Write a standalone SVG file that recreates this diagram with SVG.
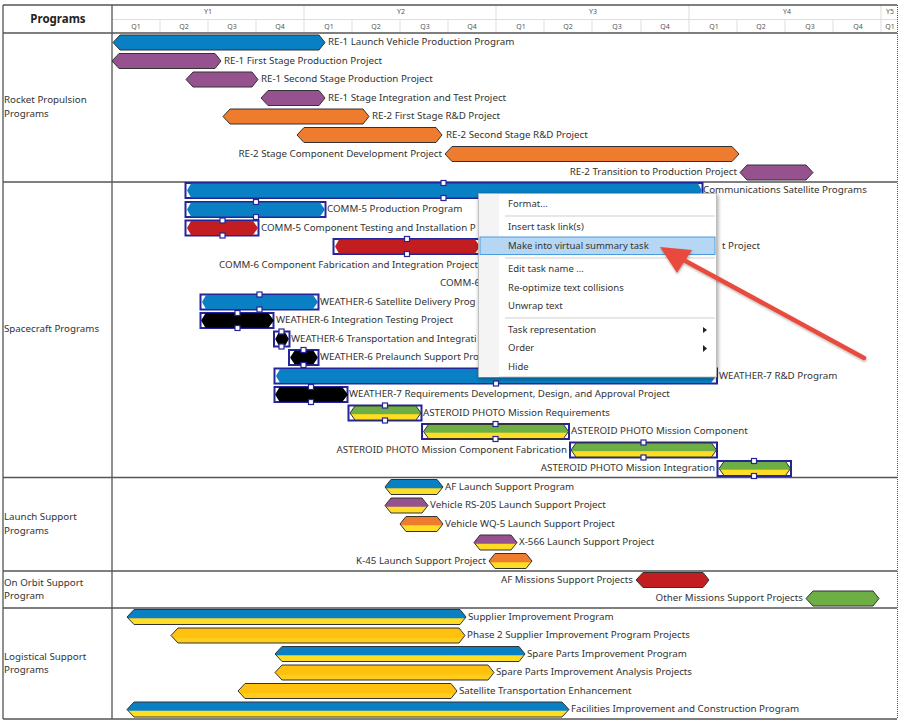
<svg xmlns="http://www.w3.org/2000/svg" width="900" height="724" viewBox="0 0 900 724">
<defs>
<linearGradient id="gBY" x1="0" y1="0" x2="0" y2="1"><stop offset="0.55" stop-color="#0A80C4"/><stop offset="0.62" stop-color="#FFDD25"/></linearGradient>
<linearGradient id="gPY" x1="0" y1="0" x2="0" y2="1"><stop offset="0.55" stop-color="#96528F"/><stop offset="0.62" stop-color="#FFDD25"/></linearGradient>
<linearGradient id="gOY" x1="0" y1="0" x2="0" y2="1"><stop offset="0.55" stop-color="#EE7B2E"/><stop offset="0.62" stop-color="#FFDD25"/></linearGradient>
<linearGradient id="gGY" x1="0" y1="0" x2="0" y2="1"><stop offset="0.55" stop-color="#6DAE45"/><stop offset="0.62" stop-color="#FFDD25"/></linearGradient>
<linearGradient id="gGold" x1="0" y1="0" x2="0" y2="1"><stop offset="0.6" stop-color="#FFC10E"/><stop offset="0.7" stop-color="#FFCD1C"/></linearGradient>
<filter id="shadow" x="-10%" y="-10%" width="120%" height="120%"><feDropShadow dx="1" dy="1.5" stdDeviation="2" flood-color="#000" flood-opacity="0.4"/></filter>
<filter id="ashadow" x="-10%" y="-10%" width="120%" height="120%"><feDropShadow dx="0.5" dy="1.5" stdDeviation="1.2" flood-color="#000" flood-opacity="0.3"/></filter>
</defs>
<style>
text{font-family:"Noto Sans","Liberation Sans",sans-serif;font-size:9.75px;fill:#333}
.hd{font-size:7px;fill:#555;text-anchor:middle}
.ttl{font-size:11.5px;font-weight:bold;fill:#222;text-anchor:middle}
.e{text-anchor:end}
.bar{stroke:#333;stroke-width:1;stroke-linejoin:round}
.blue{fill:#0A80C4}.pur{fill:#96528F}.org{fill:#EE7B2E}.red{fill:#C21E22}.blk{fill:#000;stroke:#000;stroke-linejoin:round;stroke-width:1.5}.grn{fill:#6DAE45}
.by{fill:url(#gBY)}.py{fill:url(#gPY)}.oy{fill:url(#gOY)}.gy{fill:url(#gGY)}.gold{fill:url(#gGold)}
.sel{fill:#fff;stroke:#25259A;stroke-width:2}
.h{fill:#fff;stroke:#25259A;stroke-width:1.2}
.grid{stroke:#555;stroke-width:1.3;fill:none}
.lt{stroke:#DDD;stroke-width:1;fill:none}
.mi{font-size:9.5px;fill:#333}
.sep{stroke:#CFCFCF;stroke-width:1}
</style>
<rect width="900" height="724" fill="#fff"/>
<g id="grid">
<path class="lt" d="M112 19.5H897M160 19.5V33M208 19.5V33M256 19.5V33M304 5V33M352 19.5V33M400 19.5V33M448 19.5V33M496 5V33M544 19.5V33M592 19.5V33M641 19.5V33M689 5V33M737 19.5V33M785 19.5V33M833 19.5V33M881 5V33"/>
<path class="grid" d="M3 5H897M3 33H897M3 182H897M3 477.5H897M3 571H897M3 608H897M3 719H897M3 5V719M112 5V719"/>
<path d="M897.5 5V719" stroke="#555" stroke-width="1" stroke-dasharray="1 1" fill="none"/>
</g>
<g id="header">
<text class="ttl" x="58" y="22.5">Programs</text>
<text class="hd" x="208" y="14">Y1</text><text class="hd" x="401" y="14">Y2</text><text class="hd" x="593" y="14">Y3</text><text class="hd" x="787" y="14">Y4</text><text class="hd" x="890" y="14">Y5</text>
<text class="hd" x="136" y="28.5">Q1</text><text class="hd" x="184" y="28.5">Q2</text><text class="hd" x="232" y="28.5">Q3</text><text class="hd" x="280" y="28.5">Q4</text>
<text class="hd" x="329" y="28.5">Q1</text><text class="hd" x="376" y="28.5">Q2</text><text class="hd" x="425" y="28.5">Q3</text><text class="hd" x="472" y="28.5">Q4</text>
<text class="hd" x="521" y="28.5">Q1</text><text class="hd" x="568" y="28.5">Q2</text><text class="hd" x="617" y="28.5">Q3</text><text class="hd" x="665" y="28.5">Q4</text>
<text class="hd" x="714" y="28.5">Q1</text><text class="hd" x="761" y="28.5">Q2</text><text class="hd" x="810" y="28.5">Q3</text><text class="hd" x="858" y="28.5">Q4</text><text class="hd" x="890" y="28.5">Q1</text>
</g>
<g id="row-labels">
<text x="4" y="103">Rocket Propulsion</text><text x="4" y="116.5">Programs</text>
<text x="4" y="332">Spacecraft Programs</text>
<text x="4" y="520">Launch Support</text><text x="4" y="533.5">Programs</text>
<text x="4" y="585.5">On Orbit Support</text><text x="4" y="599">Program</text>
<text x="4" y="659.5">Logistical Support</text><text x="4" y="673">Programs</text>
</g>
<g id="t0" transform="translate(0,42.5)"><polygon class="bar blue" points="113,0 120,-7.5 319,-7.5 325,0 319,7.5 120,7.5"/><text x="328" y="2.5">RE-1 Launch Vehicle Production Program</text></g>
<g id="t1" transform="translate(0,61)"><polygon class="bar pur" points="112,0 119,-7.5 215,-7.5 221,0 215,7.5 119,7.5"/><text x="224" y="2.5">RE-1 First Stage Production Project</text></g>
<g id="t2" transform="translate(0,79.5)"><polygon class="bar pur" points="186,0 193,-7.5 252,-7.5 258,0 252,7.5 193,7.5"/><text x="261" y="2.5">RE-1 Second Stage Production Project</text></g>
<g id="t3" transform="translate(0,98)"><polygon class="bar pur" points="261,0 268,-7.5 319,-7.5 325,0 319,7.5 268,7.5"/><text x="328" y="2.5">RE-1 Stage Integration and Test Project</text></g>
<g id="t4" transform="translate(0,116.5)"><polygon class="bar org" points="223,0 230,-7.5 363,-7.5 369,0 363,7.5 230,7.5"/><text x="372" y="2.5">RE-2 First Stage R&amp;D Project</text></g>
<g id="t5" transform="translate(0,135)"><polygon class="bar org" points="297,0 304,-7.5 436,-7.5 442,0 436,7.5 304,7.5"/><text x="446" y="2.5">RE-2 Second Stage R&amp;D Project</text></g>
<g id="t6" transform="translate(0,154)"><polygon class="bar org" points="445,0 452,-7.5 732,-7.5 739,0 732,7.5 452,7.5"/><text class="e" x="442" y="2.5">RE-2 Stage Component Development Project</text></g>
<g id="t7" transform="translate(0,172.5)"><polygon class="bar pur" points="740,0 747,-7.5 806,-7.5 813,0 806,7.5 747,7.5"/><text class="e" x="737" y="2.5">RE-2 Transition to Production Project</text></g>

<g id="t8" transform="translate(0,190.5)"><rect class="sel" x="185.5" y="-7.5" width="517" height="15"/><polygon class="blue" points="187,0 191,-7 698,-7 702,0 698,7 191,7"/><rect class="h" x="441" y="-10" width="5" height="5"/><rect class="h" x="441" y="5" width="5" height="5"/><text x="703" y="2.5">Communications Satellite Programs</text></g>
<g id="t9" transform="translate(0,209.5)"><rect class="sel" x="185.5" y="-7.5" width="140" height="15"/><polygon class="blue" points="187,0 191,-7 320,-7 325,0 320,7 191,7"/><rect class="h" x="253.5" y="-10" width="5" height="5"/><rect class="h" x="253.5" y="5" width="5" height="5"/><text x="327" y="2.5">COMM-5 Production Program</text></g>
<g id="t10" transform="translate(0,228)"><rect class="sel" x="185.5" y="-7.5" width="73" height="15"/><polygon class="red" points="187,0 191,-7 253,-7 258,0 253,7 191,7"/><rect class="h" x="220" y="-10" width="5" height="5"/><rect class="h" x="220" y="5" width="5" height="5"/><text x="261" y="2.5">COMM-5 Component Testing and Installation P</text></g>
<g id="t11" transform="translate(0,246.5)"><rect class="sel" x="333.5" y="-7.5" width="147" height="15"/><polygon class="red" points="335,0 339,-7 475,-7 480,0 475,7 339,7"/><rect class="h" x="404.5" y="-10" width="5" height="5"/><rect class="h" x="404.5" y="5" width="5" height="5"/><text x="722" y="2.5">t Project</text></g>
<g id="t12" transform="translate(0,265)"><text class="e" x="478" y="2.5">COMM-6 Component Fabrication and Integration Project</text></g>
<g id="t13" transform="translate(0,283.5)"><text x="440" y="2.5">COMM-6</text></g>
<g id="t14" transform="translate(0,302)"><rect class="sel" x="200.5" y="-7.5" width="118" height="15"/><polygon class="blue" points="202,0 206,-7 313,-7 318,0 313,7 206,7"/><rect class="h" x="257" y="-10" width="5" height="5"/><rect class="h" x="257" y="5" width="5" height="5"/><text x="320" y="2.5">WEATHER-6 Satellite Delivery Prog</text></g>
<g id="t15" transform="translate(0,320.5)"><rect class="sel" x="200.5" y="-7.5" width="73" height="15"/><polygon class="blk" points="202,0 206,-6.5 268,-6.5 273,0 268,6.5 206,6.5"/><rect class="h" x="235" y="-10" width="5" height="5"/><rect class="h" x="235" y="5" width="5" height="5"/><text x="276" y="2.5">WEATHER-6 Integration Testing Project</text></g>
<g id="t16" transform="translate(0,339)"><rect class="sel" x="274" y="-7.5" width="15.5" height="15"/><polygon class="blk" points="276,0 279,-5.5 285,-5.5 288,0 285,5.5 279,5.5"/><rect class="h" x="279" y="-10" width="5" height="5"/><rect class="h" x="279" y="5" width="5" height="5"/><text x="291" y="2.5">WEATHER-6 Transportation and Integrati</text></g>
<g id="t17" transform="translate(0,357.5)"><rect class="sel" x="289" y="-7.5" width="29.5" height="15"/><polygon class="blk" points="291,0 295,-6 313,-6 317,0 313,6 295,6"/><rect class="h" x="301" y="-10" width="5" height="5"/><rect class="h" x="301" y="5" width="5" height="5"/><text x="320" y="2.5">WEATHER-6 Prelaunch Support Pro</text></g>
<g id="t18" transform="translate(0,376)"><rect class="sel" x="274.5" y="-7.5" width="442.500" height="15"/><polygon class="blue" points="276,0 280,-7 711,-7 716,0 711,7 280,7"/><rect class="h" x="493.5" y="5" width="5" height="5"/><text x="719" y="2.5">WEATHER-7 R&amp;D Program</text></g>
<g id="t19" transform="translate(0,394.5)"><rect class="sel" x="274.5" y="-7.5" width="73" height="15"/><polygon class="blk" points="276,0 280,-6.5 342,-6.5 347,0 342,6.5 280,6.5"/><rect class="h" x="308.5" y="-10" width="5" height="5"/><rect class="h" x="308.5" y="5" width="5" height="5"/><text x="349" y="2.5">WEATHER-7 Requirements Development, Design, and Approval Project</text></g>
<g id="t20" transform="translate(0,413)"><rect class="sel" x="348.5" y="-7.5" width="73" height="15"/><polygon class="bar gy" points="350,0 355,-7 416,-7 421,0 416,7 355,7"/><rect class="h" x="382.5" y="-10" width="5" height="5"/><rect class="h" x="382.5" y="5" width="5" height="5"/><text x="423" y="2.5">ASTEROID PHOTO Mission Requirements</text></g>
<g id="t21" transform="translate(0,431.5)"><rect class="sel" x="422" y="-7.5" width="147" height="15"/><polygon class="bar gy" points="423.5,0 428.5,-7 563.5,-7 568.5,0 563.5,7 428.5,7"/><rect class="h" x="493" y="-10" width="5" height="5"/><rect class="h" x="493" y="5" width="5" height="5"/><text x="571" y="2.5">ASTEROID PHOTO Mission Component</text></g>
<g id="t22" transform="translate(0,450)"><rect class="sel" x="570" y="-7.5" width="147" height="15"/><polygon class="bar gy" points="571,0 576,-7 711.5,-7 716.5,0 711.5,7 576,7"/><rect class="h" x="641" y="-10" width="5" height="5"/><rect class="h" x="641" y="5" width="5" height="5"/><text class="e" x="567" y="2.5">ASTEROID PHOTO Mission Component Fabrication</text></g>
<g id="t23" transform="translate(0,468.5)"><rect class="sel" x="717.5" y="-7.5" width="73.5" height="15"/><polygon class="bar gy" points="719,0 724,-7 785.5,-7 790.5,0 785.5,7 724,7"/><rect class="h" x="751.5" y="-10" width="5" height="5"/><rect class="h" x="751.5" y="5" width="5" height="5"/><text class="e" x="715" y="2.5">ASTEROID PHOTO Mission Integration</text></g>

<g id="t24" transform="translate(0,487)"><polygon class="bar by" points="385,0 391,-7.5 437,-7.5 443,0 437,7.5 391,7.5"/><text x="445" y="2.5">AF Launch Support Program</text></g>
<g id="t25" transform="translate(0,505.5)"><polygon class="bar py" points="385,0 391,-7.5 422,-7.5 428,0 422,7.5 391,7.5"/><text x="430" y="2.5">Vehicle RS-205 Launch Support Project</text></g>
<g id="t26" transform="translate(0,524)"><polygon class="bar oy" points="400,0 406,-7.5 437,-7.5 443,0 437,7.5 406,7.5"/><text x="445" y="2.5">Vehicle WQ-5 Launch Support Project</text></g>
<g id="t27" transform="translate(0,542.5)"><polygon class="bar py" points="474,0 480,-7.5 511,-7.5 517,0 511,7.5 480,7.5"/><text x="519" y="2.5">X-566 Launch Support Project</text></g>
<g id="t28" transform="translate(0,561)"><polygon class="bar oy" points="489,0 495,-7.5 526,-7.5 532,0 526,7.5 495,7.5"/><text class="e" x="486" y="2.5">K-45 Launch Support Project</text></g>
<g id="t29" transform="translate(0,580)"><polygon class="bar red" points="636,0 643,-7.5 703,-7.5 709,0 703,7.5 643,7.5"/><text class="e" x="633" y="2.5">AF Missions Support Projects</text></g>
<g id="t30" transform="translate(0,598.5)"><polygon class="bar grn" points="806,0 813,-7.5 873,-7.5 879,0 873,7.5 813,7.5"/><text class="e" x="803" y="2.5">Other Missions Support Projects</text></g>
<g id="t31" transform="translate(0,617)"><polygon class="bar by" points="127,0 134,-7.5 460,-7.5 466,0 460,7.5 134,7.5"/><text x="468" y="2.5">Supplier Improvement Program</text></g>
<g id="t32" transform="translate(0,635.5)"><polygon class="bar gold" points="171,0 178,-7.5 459,-7.5 465,0 459,7.5 178,7.5"/><text x="467" y="2.5">Phase 2 Supplier Improvement Program Projects</text></g>
<g id="t33" transform="translate(0,654)"><polygon class="bar by" points="275,0 282,-7.5 519,-7.5 525,0 519,7.5 282,7.5"/><text x="527" y="2.5">Spare Parts Improvement Program</text></g>
<g id="t34" transform="translate(0,672.5)"><polygon class="bar gold" points="275,0 282,-7.5 488,-7.5 494,0 488,7.5 282,7.5"/><text x="496" y="2.5">Spare Parts Improvement Analysis Projects</text></g>
<g id="t35" transform="translate(0,691)"><polygon class="bar gold" points="238,0 245,-7.5 451,-7.5 457,0 451,7.5 245,7.5"/><text x="459" y="2.5">Satellite Transportation Enhancement</text></g>
<g id="t36" transform="translate(0,709.5)"><polygon class="bar by" points="127,0 134,-7.5 562,-7.5 569,0 562,7.5 134,7.5"/><text x="571" y="2.5">Facilities Improvement and Construction Program</text></g>

<g id="context-menu">
<rect x="478.5" y="193.5" width="238" height="183.5" fill="#fff" stroke="#AAA" stroke-width="0.7" filter="url(#shadow)"/>
<rect x="479" y="194" width="20" height="183" fill="#F4F4F4"/>
<path class="sep" d="M505 216H715M505 258H715M505 318H715"/>
<rect x="480" y="237" width="235" height="17.5" fill="#B5D7F3" stroke="#4A9BE0"/>
<text class="mi" x="508" y="206.5">Format...</text>
<text class="mi" x="508" y="230">Insert task link(s)</text>
<text class="mi" x="508" y="248.5">Make into virtual summary task</text>
<text class="mi" x="508" y="272">Edit task name ...</text>
<text class="mi" x="508" y="290.5">Re-optimize text collisions</text>
<text class="mi" x="508" y="309">Unwrap text</text>
<text class="mi" x="508" y="332.5">Task representation</text>
<text class="mi" x="508" y="351">Order</text>
<text class="mi" x="508" y="369.5">Hide</text>
<polygon points="703,327 707,330 703,333" fill="#222"/>
<polygon points="703,345 707,348.5 703,352" fill="#222"/>
</g>
<g id="connectors" filter="url(#ashadow)">
<line x1="680" y1="258" x2="864" y2="358" stroke="#E84C3D" stroke-width="4.5" stroke-linecap="round"/>
<polygon points="660,247 692,250 677,273" fill="#E84C3D"/>
</g>
</svg>
